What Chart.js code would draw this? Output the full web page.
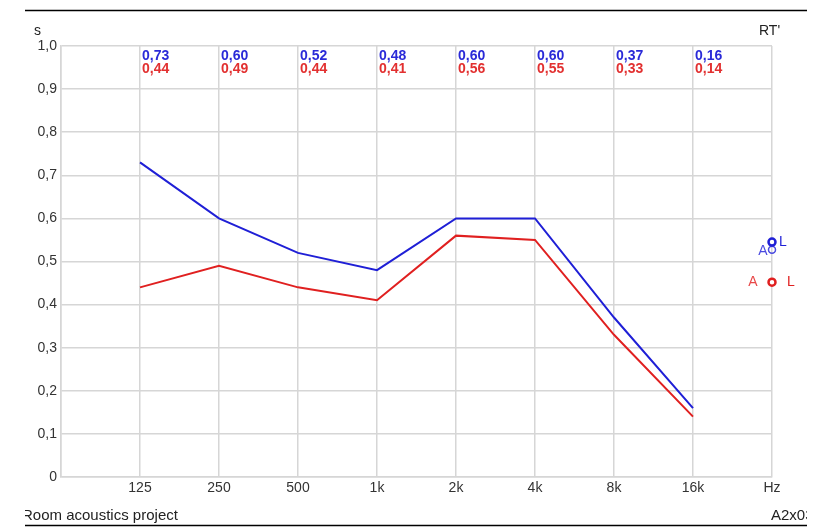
<!DOCTYPE html>
<html><head><meta charset="utf-8">
<script src="https://cdn.jsdelivr.net/npm/chart.js@4/dist/chart.umd.min.js"></script>
<style>html,body{margin:0;padding:0;background:#fff}#wrap{width:833px;height:528px}</style>
</head><body><div id="wrap"><canvas id="c" width="833" height="528"></canvas></div>
<script>
const categories = ["", "125", "250", "500", "1k", "2k", "4k", "8k", "16k", "Hz"];
const seriesBlue = [null, 0.73, 0.60, 0.52, 0.48, 0.60, 0.60, 0.37, 0.16, null];
const seriesRed  = [null, 0.44, 0.49, 0.44, 0.41, 0.56, 0.55, 0.33, 0.14, null];
const markerBlueA = 0.527;
const markerBlueL = 0.545;
const markerRed = 0.452;
const yTicks = [0, 0.1, 0.2, 0.3, 0.4, 0.5, 0.6, 0.7, 0.8, 0.9, 1.0];

const BLUE = '#1f1fd6', RED = '#e02020';
const FONT = 'Arial, "Liberation Sans", sans-serif';
const fmt = v => v.toFixed(2).replace('.', ',');
const markerData = v => categories.map((c, i) => i === categories.length - 1 ? v : null);

const overlay = {
  id: 'overlay',
  afterDraw(chart) {
    const ctx = chart.ctx, x = chart.scales.x, y = chart.scales.y;
    ctx.save();
    ctx.textBaseline = 'middle';
    ctx.textAlign = 'left';
    ctx.font = 'bold 14px ' + FONT;
    for (let i = 1; i < categories.length - 1; i++) {
      const px = x.getPixelForValue(i) + 2;
      if (seriesBlue[i] != null) { ctx.fillStyle = '#2a2ad8'; ctx.fillText(fmt(seriesBlue[i]), px, 56); }
      if (seriesRed[i] != null) { ctx.fillStyle = '#e23030'; ctx.fillText(fmt(seriesRed[i]), px, 69); }
    }
    ctx.font = '14px ' + FONT;
    ctx.fillStyle = '#222';
    ctx.fillText('s', 34, 31);
    ctx.fillText("RT'", 759, 31);
    const hx = x.getPixelForValue(categories.length - 1);
    ctx.fillStyle = '#4a4ae0';
    ctx.textAlign = 'center';
    ctx.fillText('A', hx - 9, y.getPixelForValue(markerBlueA) + 1);
    ctx.fillStyle = BLUE;
    ctx.fillText('L', hx + 11, y.getPixelForValue(markerBlueL));
    ctx.fillStyle = '#e84848';
    ctx.fillText('A', hx - 19, y.getPixelForValue(markerRed));
    ctx.fillStyle = RED;
    ctx.fillText('L', hx + 19, y.getPixelForValue(markerRed));
    // frame lines and footer
    ctx.strokeStyle = '#000'; ctx.lineWidth = 1.5;
    ctx.beginPath(); ctx.moveTo(25, 10.5); ctx.lineTo(807, 10.5); ctx.stroke();
    ctx.beginPath(); ctx.moveTo(25, 525.5); ctx.lineTo(807, 525.5); ctx.stroke();
    ctx.save();
    ctx.beginPath(); ctx.rect(25, 500, 782, 24); ctx.clip();
    ctx.fillStyle = '#222'; ctx.textAlign = 'left';
    ctx.font = '15px ' + FONT;
    ctx.fillText('Room acoustics project', 22, 516);
    ctx.fillText('A2x03', 771, 516);
    ctx.restore();
    ctx.restore();
  }
};

new Chart(document.getElementById('c'), {
  type: 'line',
  data: {
    labels: categories,
    datasets: [
      { data: seriesBlue, borderColor: BLUE, borderWidth: 2, pointRadius: 0, tension: 0, spanGaps: false },
      { data: seriesRed, borderColor: RED, borderWidth: 2, pointRadius: 0, tension: 0, spanGaps: false },
      { data: markerData(markerBlueL), showLine: false, pointRadius: 3.5, pointBorderWidth: 2.5, pointBorderColor: BLUE, pointBackgroundColor: '#fff' },
      { data: markerData(markerBlueA), showLine: false, pointRadius: 3.5, pointBorderWidth: 1.5, pointBorderColor: '#4a4ae0', pointBackgroundColor: 'rgba(255,255,255,0)' },
      { data: markerData(markerRed), showLine: false, pointRadius: 3.5, pointBorderWidth: 2.5, pointBorderColor: RED, pointBackgroundColor: '#fff' }
    ]
  },
  options: {
    responsive: false, animation: false,
    layout: { padding: { top: 46, right: 61, left: 0, bottom: 0 } },
    plugins: { legend: { display: false }, tooltip: { enabled: false } },
    scales: {
      x: {
        offset: false,
        grid: { color: '#d6d6d6', drawTicks: false, lineWidth: 1.5 },
        border: { color: '#d6d6d6', width: 1.5 },
        ticks: { padding: 3, color: '#333', font: { family: FONT, size: 14 }, maxRotation: 0, autoSkip: false },
        afterFit(s) { s.height = 51; }
      },
      y: {
        min: 0, max: 1,
        afterBuildTicks(s) { s.ticks = yTicks.map(v => ({ value: v })); },
        grid: { color: '#d6d6d6', drawTicks: false, lineWidth: 1.5 },
        border: { color: '#d6d6d6', width: 1.5 },
        ticks: { padding: 4, color: '#333', font: { family: FONT, size: 14 },
          callback: v => v === 0 ? '0' : v.toFixed(1).replace('.', ',') },
        afterFit(s) { s.width = 61; }
      }
    }
  },
  plugins: [overlay]
});
</script></body></html>
